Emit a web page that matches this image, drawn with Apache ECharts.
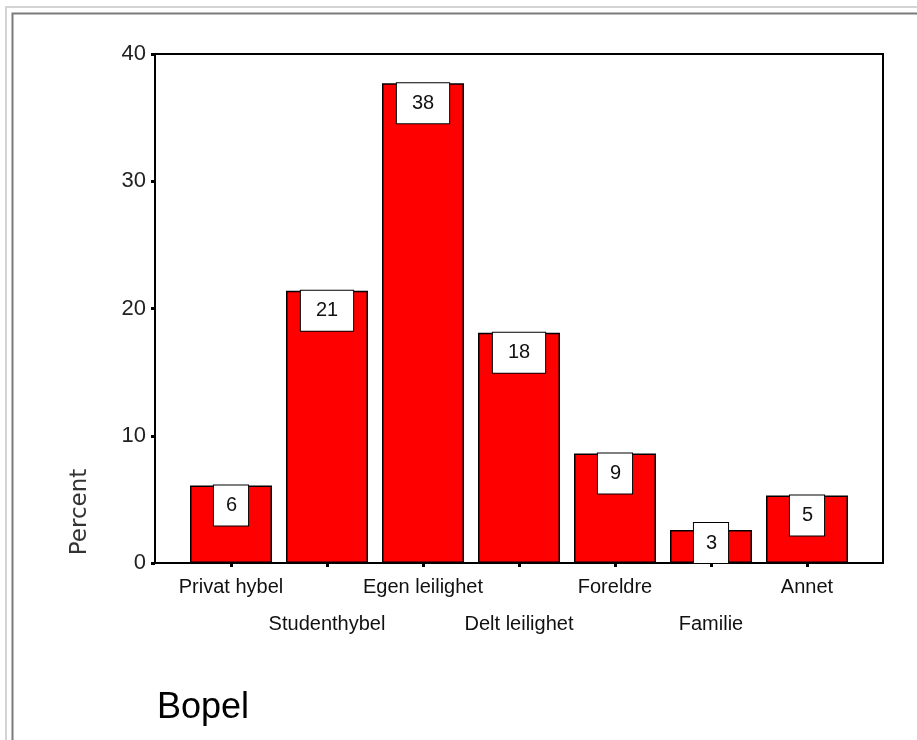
<!DOCTYPE html>
<html>
<head>
<meta charset="utf-8">
<script src="https://cdn.jsdelivr.net/npm/echarts@6/dist/echarts.min.js"></script>
<style>
html,body{margin:0;padding:0;background:#fff;}
#chart{width:917px;height:740px;}
</style>
</head>
<body>
<div id="chart"></div>
<script>
var categories = ['Privat hybel','Studenthybel','Egen leilighet','Delt leilighet','Foreldre','Familie','Annet'];
var percentValues = [6.1, 21.4, 37.7, 18.1, 8.6, 2.6, 5.3];
var yTicks = [0, 10, 20, 30, 40];
var axisTitle = 'Percent';
var chartTitle = 'Bopel';

var chart = echarts.init(document.getElementById('chart'), null, {renderer:'canvas'});

var barData = percentValues.map(function(v, i){
  var txt = String(Math.round(v));
  return {
    value: v,
    label: {
      position: v < 4 ? 'insideBottom' : 'insideTop',
      padding: txt.length > 1 ? [10, 15, 10, 15] : [10, 11, 10, 12]
    }
  };
});

var font = "'Liberation Sans', Arial, sans-serif";

chart.setOption({
  animation: false,
  backgroundColor: '#fff',
  grid: [
    {left: 155, right: 34, top: 54, bottom: 177, show: true, borderColor: '#000', borderWidth: 2, backgroundColor: 'transparent'},
    {left: 183, right: 62, top: 54, bottom: 177}
  ],
  xAxis: [
    {gridIndex: 0, type: 'value', min: 0, max: 1, show: false},
    {
      gridIndex: 1, type: 'category', data: categories,
      axisLine: {show: false},
      axisTick: {show: true, alignWithLabel: true, length: 4, lineStyle: {color: '#000', width: 3}},
      axisLabel: {
        interval: 0, margin: 6, color: '#111', fontFamily: font, fontSize: 20, lineHeight: 37,
        formatter: function(val, idx){ return idx % 2 ? '\n' + val : val; }
      }
    }
  ],
  yAxis: [
    {
      gridIndex: 0, type: 'value', min: yTicks[0], max: yTicks[yTicks.length-1], interval: 10,
      axisLine: {show: false},
      axisTick: {show: true, length: 4, lineStyle: {color: '#000', width: 3}},
      splitLine: {show: false},
      axisLabel: {margin: 9, color: '#222', fontFamily: font, fontSize: 22}
    },
    {gridIndex: 1, type: 'value', min: 0, max: 40, show: false, splitLine: {show: false}}
  ],
  series: [{
    type: 'bar',
    xAxisIndex: 1, yAxisIndex: 1,
    data: barData,
    barWidth: 82,
    itemStyle: {color: '#ff0000', borderColor: '#000', borderWidth: 1.5},
    label: {
      show: true, distance: 0,
      backgroundColor: '#fff', borderColor: '#000', borderWidth: 1,
      color: '#111', fontFamily: font, fontSize: 20, lineHeight: 20,
      formatter: function(p){ return String(Math.round(p.value)); }
    }
  }],
  graphic: [
    {type: 'rect', shape: {x: 6, y: 7, width: 940, height: 760}, style: {fill: 'none', stroke: '#d4d4d4', lineWidth: 2}, silent: true},
    {type: 'rect', shape: {x: 12.5, y: 13.5, width: 930, height: 760}, style: {fill: 'none', stroke: '#7a7a7a', lineWidth: 2}, silent: true},
    {type: 'text', x: 80, y: 512, rotation: Math.PI/2, style: {text: axisTitle, fontFamily: "'DejaVu Sans', sans-serif", fontSize: 23, fill: '#333', textAlign: 'center', textVerticalAlign: 'middle'}},
    {type: 'text', x: 157, y: 708, style: {text: chartTitle, fontFamily: font, fontSize: 36, fill: '#000', textAlign: 'left', textVerticalAlign: 'middle'}}
  ]
});
</script>
</body>
</html>
